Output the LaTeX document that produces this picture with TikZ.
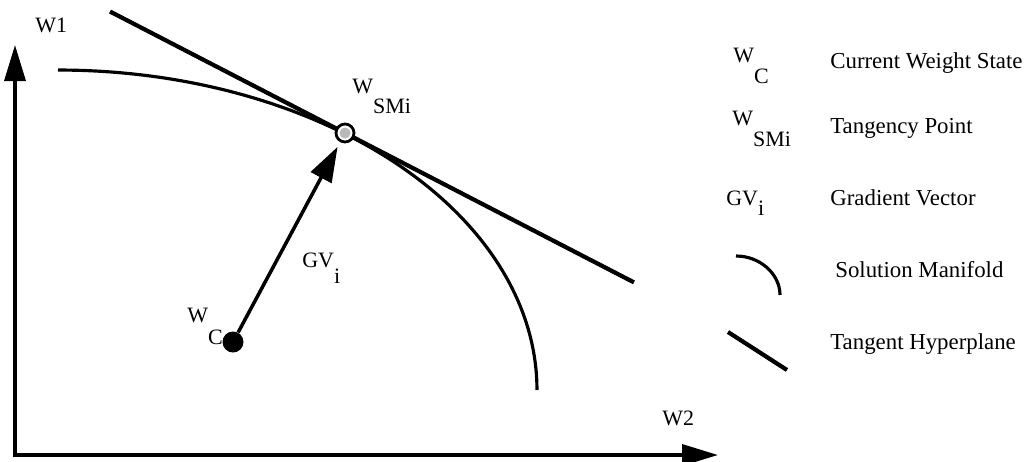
\documentclass[tikz,border=0pt]{standalone}
\usepackage{fontspec}
\setmainfont{Liberation Serif}
\usetikzlibrary{arrows.meta}
\newcommand{\lowsub}[3][12pt]{#2\raisebox{-#1}{#3}}
\tikzset{
  axis/.style = {line width=2pt, -{Triangle[length=0.72cm, width=0.42cm]}},
  manifold/.style = {line width=1.8pt},
  hyperplane/.style = {line width=2.4pt},
  gvarrow/.style = {line width=2pt, -{Triangle[length=0.7cm, width=0.46cm]}, shorten >=3pt},
  lbl/.style = {font=\fontsize{12.5}{14}\selectfont, inner sep=0pt, anchor=base west},
  legtext/.style = {font=\fontsize{13}{15}\selectfont, inner sep=0pt, anchor=base west},
  wpoint/.style = {circle, fill=black, minimum size=0.42cm, inner sep=0pt},
  tpoint/.style = {circle, draw=black, line width=1.6pt, fill=white, minimum size=0.36cm, inner sep=0pt,
    path picture={\fill[gray!55] (path picture bounding box.center) circle (0.11cm);}}
}
\begin{document}
\begin{tikzpicture}[x=0.02cm, y=-0.02cm]
  \useasboundingbox (0,0) rectangle (1035,461);
  % axes
  \coordinate (origin) at (15,455);
  \coordinate (w1tip) at (15,45);
  \coordinate (w2tip) at (718,455);
  \draw[axis] ([yshift=-1pt]origin) -- (w1tip);
  \draw[axis] ([xshift=-1pt]origin) -- (w2tip);
  \node[lbl] (w1) at (35,32) {W1};
  \node[lbl] (w2) at (662,425) {W2};
  % solution manifold and tangent hyperplane
  \draw[manifold] plot[domain=90:0, samples=60, smooth] ({58+479*cos(\x)}, {390-320*sin(\x)});
  \coordinate (th1) at (110,11.5);
  \coordinate (th2) at (634,282.4);
  \draw[hyperplane] (th1) -- (th2);
  % weight states and gradient vector
  \node[wpoint] (wc) at (233,342) {};
  \node[tpoint] (smi) at (345,133) {};
  \draw[gvarrow] (wc) -- (smi);
  \node[lbl] (wclbl) at (187,322) {\lowsub[13pt]{W}{C}};
  \node[lbl] (smilbl) at (352,93) {\lowsub[11.5pt]{W}{SMi}};
  \node[lbl] (gvlbl) at (302,267) {\lowsub[9.5pt]{GV}{i}};
  % legend
  \node[lbl] (legwc) at (733,62) {\lowsub[12.5pt]{W}{C}};
  \node[legtext] (txtwc) at (830,68) {Current Weight State};
  \node[lbl] (legsmi) at (732,125) {\lowsub[12pt]{W}{SMi}};
  \node[legtext] (txtsmi) at (830,133) {Tangency Point};
  \node[lbl] (leggv) at (726,205) {\lowsub[6pt]{GV}{i}};
  \node[legtext] (txtgv) at (830,205) {Gradient Vector};
  \coordinate (arc1) at (736,256);
  \coordinate (arc2) at (780,295);
  \draw[manifold] (arc1) .. controls (760,256) and (780,274) .. (arc2);
  \node[legtext] (txtsm) at (835,277) {Solution Manifold};
  \coordinate (leg1) at (728,332);
  \coordinate (leg2) at (787,370);
  \draw[hyperplane] (leg1) -- (leg2);
  \node[legtext] (txtth) at (830,349) {Tangent Hyperplane};
\end{tikzpicture}
\end{document}
